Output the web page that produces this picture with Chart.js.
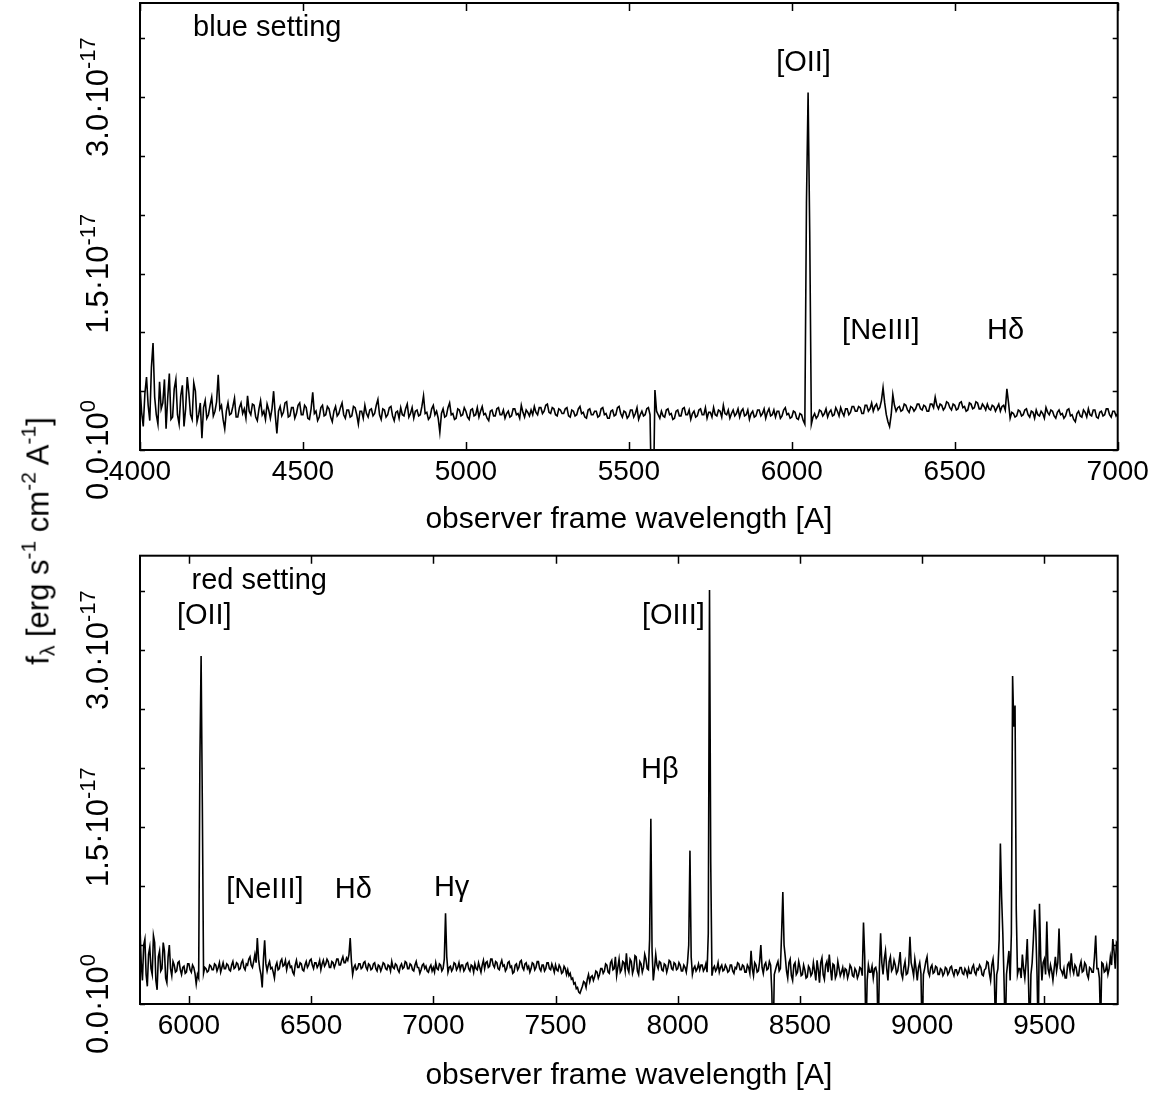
<!DOCTYPE html>
<html>
<head>
<meta charset="utf-8">
<script src="https://cdn.jsdelivr.net/npm/chart.js@4.4.0/dist/chart.umd.min.js"></script>
<style>
html,body{margin:0;padding:0;background:#fff;}
body{width:1168px;height:1094px;position:relative;overflow:hidden;}
canvas{position:absolute;left:0;}
#c1{top:0;}
#c2{top:547px;}
#ylab{position:absolute;left:38px;top:541px;transform:translate(-50%,-50%) rotate(-90deg);
  font-family:"Liberation Sans",Arial,sans-serif;font-size:31px;line-height:31px;white-space:nowrap;color:#000;}
#ylab sup,#ylab sub{font-size:21px;line-height:0;position:relative;vertical-align:baseline;}
#ylab sup{top:-0.6em;}
#ylab sub{top:0.3em;}
</style>
</head>
<body>
<canvas id="c1" width="1168" height="547"></canvas>
<canvas id="c2" width="1168" height="547"></canvas>
<div id="ylab">f<sub>λ</sub> [erg s<sup>-1</sup> cm<sup>-2</sup> A<sup>-1</sup>]</div>
<script>
// ---- data: flux in units of 1e-17 erg s^-1 cm^-2 A^-1, sampled every 5 A ----
const blueStart = 4000, blueStep = 5;
const blueFlux = [
 .55,.32,.20,.48,.62,.38,.25,.70,.91,.45,.30,.22,.58,.35,.40,.60,.18,.44,.65,.26,
 .28,.52,.60,.30,.22,.46,.55,.20,.35,.62,.48,.30,.26,.57,.50,.24,.30,.40,.10,.36,
 .42,.27,.30,.38,.45,.29,.33,.41,.64,.35,.38,.26,.18,.33,.40,.30,.31,.37,.44,.28,
 .28,.36,.40,.31,.35,.27,.46,.33,.30,.39,.38,.28,.25,.35,.42,.30,.33,.26,.39,.34,
 .27,.35,.50,.30,.14,.33,.37,.29,.32,.40,.41,.28,.29,.36,.36,.27,.31,.38,.40,.30,
 .30,.38,.36,.27,.26,.35,.49,.31,.33,.25,.28,.36,.38,.29,.30,.37,.35,.28,.24,.33,
 .37,.29,.31,.36,.40,.30,.27,.34,.34,.28,.29,.37,.36,.30,.22,.33,.33,.27,.38,.31,
 .28,.34,.35,.29,.31,.38,.43,.30,.26,.35,.34,.28,.30,.36,.37,.29,.25,.32,.33,.27,
 .36,.30,.29,.35,.39,.28,.31,.36,.27,.33,.34,.29,.30,.37,.46,.31,.32,.26,.28,.35,
 .38,.30,.33,.27,.15,.31,.35,.28,.29,.36,.40,.30,.31,.26,.27,.35,.34,.29,.30,.36,
 .33,.28,.26,.34,.35,.29,.30,.36,.28,.33,.37,.30,.31,.27,.25,.33,.34,.29,.29,.35,
 .36,.30,.30,.34,.27,.31,.33,.28,.29,.35,.35,.30,.31,.27,.38,.32,.28,.34,.32,.29,
 .34,.30,.37,.32,.30,.36,.36,.31,.33,.38,.39,.32,.31,.36,.35,.30,.29,.35,.34,.31,
 .31,.35,.36,.29,.28,.34,.33,.29,.30,.35,.37,.31,.32,.28,.27,.34,.35,.30,.30,.33,
 .33,.28,.29,.35,.36,.30,.31,.27,.27,.33,.34,.29,.30,.36,.37,.31,.28,.33,.32,.27,
 .29,.34,.34,.28,.31,.36,.26,.30,.33,.29,.30,.35,.36,.30,-.50,-.50,.51,.33,.30,.27,
 .33,.29,.28,.34,.35,.30,.31,.26,.27,.33,.34,.29,.29,.35,.36,.30,.30,.34,.26,.31,
 .33,.28,.29,.34,.35,.30,.30,.36,.27,.32,.32,.28,.36,.30,.29,.34,.33,.28,.38,.31,
 .30,.34,.27,.31,.34,.29,.31,.35,.28,.33,.35,.29,.30,.34,.26,.31,.33,.28,.29,.34,
 .34,.29,.31,.35,.27,.32,.35,.29,.30,.34,.28,.33,.33,.27,.29,.34,.36,.30,.31,.27,
 .28,.33,.32,.27,.26,.31,.30,.25,.22,2.10,3.04,1.85,.22,.28,.31,.27,.29,.34,.33,.29,
 .31,.35,.28,.32,.34,.29,.30,.36,.33,.29,.36,.32,.29,.35,.35,.30,.32,.37,.37,.33,
 .33,.37,.36,.31,.31,.38,.38,.33,.35,.40,.33,.37,.39,.34,.36,.42,.53,.40,.30,.24,
 .20,.30,.47,.38,.33,.36,.37,.33,.34,.39,.38,.34,.32,.37,.36,.33,.35,.39,.39,.35,
 .34,.38,.37,.33,.33,.39,.39,.36,.45,.38,.35,.39,.38,.34,.36,.41,.40,.36,.34,.39,
 .38,.34,.35,.40,.41,.36,.37,.33,.34,.40,.39,.35,.36,.41,.40,.35,.35,.39,.37,.34,
 .39,.35,.34,.38,.37,.33,.36,.39,.33,.37,.38,.34,.52,.40,.27,.32,.31,.28,.29,.34,
 .33,.29,.30,.34,.35,.30,.28,.33,.32,.27,.34,.30,.29,.33,.31,.27,.36,.32,.30,.34,
 .33,.29,.27,.32,.34,.30,.31,.27,.29,.34,.35,.29,.30,.26,.24,.31,.33,.29,.28,.34,
 .32,.28,.35,.30,.29,.34,.34,.28,.27,.32,.33,.29,.30,.35,.35,.30,.28,.33,.33,.29,
 .31
];
const redStart = 5800, redStep = 5;
const redFlux = [
 .65,.35,.20,.50,.55,.25,.15,.42,.48,.30,.25,.58,.52,.20,.12,.40,.45,.28,.30,.52,
 .45,.22,.18,.40,.50,.30,.24,.36,.33,.27,.28,.35,.36,.29,.25,.31,.32,.26,.27,.34,
 .34,.29,.27,.33,.31,.26,.17,.25,.22,2.05,2.95,1.70,.26,.31,.30,.27,.28,.33,.32,.29,
 .29,.34,.33,.28,.31,.35,.27,.31,.35,.30,.30,.34,.33,.29,.28,.33,.36,.30,.31,.35,
 .34,.29,.30,.35,.37,.31,.29,.34,.33,.38,.40,.33,.31,.36,.42,.35,.56,.38,.30,.25,
 .14,.38,.54,.34,.28,.33,.36,.30,.31,.27,.22,.32,.35,.29,.30,.36,.38,.32,.33,.37,
 .29,.34,.36,.31,.32,.27,.25,.33,.37,.31,.31,.35,.34,.29,.28,.33,.36,.31,.33,.37,
 .38,.33,.30,.35,.35,.31,.33,.37,.29,.34,.37,.32,.34,.38,.36,.31,.31,.36,.35,.31,
 .34,.38,.38,.33,.33,.37,.40,.35,.35,.39,.37,.42,.56,.36,.25,.31,.33,.29,.30,.34,
 .34,.30,.31,.35,.36,.31,.29,.34,.33,.29,.30,.34,.35,.30,.28,.33,.32,.28,.31,.35,
 .34,.30,.29,.33,.32,.28,.36,.31,.30,.34,.33,.29,.27,.32,.34,.30,.31,.36,.35,.30,
 .30,.34,.33,.29,.28,.33,.36,.31,.31,.26,.29,.33,.34,.30,.32,.28,.27,.31,.33,.28,
 .31,.27,.35,.30,.29,.34,.33,.28,.30,.38,.77,.40,.27,.31,.32,.28,.30,.35,.34,.29,
 .31,.35,.29,.33,.33,.28,.30,.34,.35,.30,.28,.33,.32,.27,.34,.30,.29,.35,.31,.27,
 .33,.37,.30,.35,.36,.31,.32,.38,.38,.33,.31,.36,.35,.30,.29,.34,.37,.32,.33,.28,
 .30,.35,.36,.31,.32,.26,.27,.33,.34,.29,.31,.36,.37,.31,.29,.34,.35,.30,.32,.27,
 .30,.35,.34,.29,.31,.36,.36,.30,.28,.33,.33,.28,.30,.35,.35,.30,.29,.34,.31,.27,
 .33,.29,.28,.33,.31,.26,.27,.32,.30,.25,.29,.24,.26,.21,.22,.17,.18,.13,.14,.10,
 .09,.12,.15,.19,.18,.14,.21,.25,.19,.23,.24,.20,.23,.28,.27,.22,.25,.30,.30,.26,
 .28,.34,.33,.27,.26,.35,.37,.29,.30,.40,.24,.31,.38,.27,.29,.36,.35,.28,.43,.30,
 .27,.38,.36,.26,.30,.41,.40,.28,.25,.36,.34,.27,.31,.42,.38,.30,.29,.55,1.57,.45,
 .20,.30,.42,.33,.30,.36,.35,.29,.28,.34,.33,.27,.31,.37,.36,.30,.29,.35,.34,.29,
 .30,.35,.33,.28,.28,.33,.31,.27,.35,.50,1.30,.40,.25,.30,.32,.28,.30,.34,.29,.33,
 .33,.28,.30,.34,.27,.60,3.51,1.20,.24,.30,.32,.28,.30,.35,.27,.31,.33,.28,.29,.33,
 .31,.27,.28,.33,.33,.28,.26,.31,.30,.35,.34,.29,.29,.33,.32,.27,.27,.33,.31,.26,
 .45,.30,.24,.35,.33,.27,.28,.36,.50,.31,.26,.33,.35,.29,.30,.36,.33,.10,-.40,.25,
 .29,.33,.36,.28,.30,.60,.95,.50,.40,.28,.22,.35,.38,.24,.20,.33,.35,.25,.27,.36,
 .31,.24,.25,.33,.29,.22,.23,.32,.30,.24,.26,.35,.28,.20,.37,.29,.18,.35,.39,.25,
 .21,.33,.36,.27,.42,.30,.20,.34,.33,.22,.25,.36,.30,.24,.27,.31,.24,.30,.29,.22,
 .26,.33,.31,.24,.23,.30,.28,.22,.25,.31,.30,.24,.69,.40,-.30,.20,.33,.27,.27,.32,
 .22,.30,.31,.26,-.30,.30,.60,.35,.25,.38,.45,.30,.20,.36,.40,.28,.30,.37,.33,.26,
 .28,.35,.44,.26,.22,.31,.36,.25,.26,.33,.57,.35,.30,.24,.38,.30,.20,.31,.35,.26,
 -.30,.25,.30,.36,.40,.27,.24,.31,.33,.26,.27,.32,.31,.25,.25,.30,.29,.24,.26,.31,
 .30,.25,.27,.31,.32,.27,.24,.29,.29,.25,.27,.31,.31,.26,.25,.30,.28,.24,.30,.26,
 .26,.31,.33,.27,.25,.30,.29,.33,.31,.25,.24,.29,.30,.36,.35,.26,.20,.33,.38,.25,
 -.20,.25,.30,.55,1.36,.91,.60,.20,-.30,.25,.35,.45,.20,.60,2.78,2.35,2.53,.80,.25,.30,
 .30,.22,.42,.30,.22,.35,.55,.20,-.30,.25,.35,.55,.80,.62,.25,-.30,.85,.40,.20,.35,
 .38,.25,.70,.30,.25,.33,.28,.20,.30,.40,.28,.35,.64,.30,.28,.25,.30,.22,.22,.33,
 .35,.28,.43,.30,.26,.33,.31,.24,.24,.32,.36,.27,.28,.35,.33,.25,.22,.31,.30,.27,
 .27,.40,.58,.30,.30,.22,-.20,.35,.34,.27,.28,.33,.25,.30,.40,.33,.55,.45,.30,.52,
 .50
];
const blueTicksX = [4000,4500,5000,5500,6000,6500,7000];
const redTicksX  = [6000,6500,7000,7500,8000,8500,9000,9500];
const yTicks = [0,0.5,1.0,1.5,2.0,2.5,3.0,3.5];
const yLabelValues = [0,1.5,3.0];
const yLabelMant = ['0.0','1.5','3.0'];
const yLabelExp  = ['0','-17','-17'];

// ---- annotations (text placed in data coordinates) ----
const blueNotes = [
  {text:'blue setting', x:4163, y:3.517, align:'left'},
  {text:'[OII]',   x:6036, y:3.223, align:'center'},
  {text:'[NeIII]', x:6273, y:0.943, align:'center'},
  {text:'Hδ',      x:6656, y:0.943, align:'center'}
];
const redNotes = [
  {text:'red setting', x:6011, y:3.52, align:'left'},
  {text:'[OII]',   x:6063, y:3.219, align:'center'},
  {text:'[NeIII]', x:6311, y:0.902, align:'center'},
  {text:'Hδ',      x:6673, y:0.902, align:'center'},
  {text:'Hγ',      x:7075, y:0.918, align:'center'},
  {text:'Hβ',      x:7927, y:1.919, align:'center'},
  {text:'[OIII]',  x:7982, y:3.219, align:'center'}
];

const FONT = '"Liberation Sans", Arial, sans-serif';

function framePlugin(cfg) {
  return {
    id: 'frame_' + cfg.id,
    afterDraw(chart) {
      const ctx = chart.ctx, a = chart.chartArea;
      const xs = chart.scales.x, ys = chart.scales.y;
      ctx.save();
      ctx.strokeStyle = '#000';
      ctx.lineWidth = 2;
      ctx.strokeRect(a.left, a.top, a.right - a.left, a.bottom - a.top);
      ctx.lineWidth = 1.5;
      ctx.beginPath();
      cfg.xTicks.forEach(v => {
        const px = Math.round(xs.getPixelForValue(v)) + 0.5;
        ctx.moveTo(px, a.bottom); ctx.lineTo(px, a.bottom - 8);
        ctx.moveTo(px, a.top); ctx.lineTo(px, a.top + 8);
      });
      yTicks.forEach(v => {
        const py = Math.round(ys.getPixelForValue(v)) + 0.5;
        ctx.moveTo(a.left, py); ctx.lineTo(a.left + 5, py);
        ctx.moveTo(a.right, py); ctx.lineTo(a.right - 5, py);
      });
      ctx.stroke();
      // rotated y tick labels
      ctx.fillStyle = '#000';
      yLabelValues.forEach((v, i) => {
        const py = ys.getPixelForValue(v);
        const base = yLabelMant[i] + '·10';
        const ex = yLabelExp[i];
        ctx.font = '31px ' + FONT;
        const wb = ctx.measureText(base).width;
        ctx.font = '22px ' + FONT;
        const we = ctx.measureText(ex).width;
        const tot = wb + we;
        ctx.save();
        ctx.translate(108, py);
        ctx.rotate(-Math.PI / 2);
        ctx.textAlign = 'left';
        ctx.textBaseline = 'alphabetic';
        ctx.font = '31px ' + FONT;
        ctx.fillText(base, -tot / 2, 0);
        ctx.font = '22px ' + FONT;
        ctx.fillText(ex, -tot / 2 + wb, -13);
        ctx.restore();
      });
      // line annotations
      ctx.font = '29px ' + FONT;
      ctx.textBaseline = 'alphabetic';
      cfg.notes.forEach(n => {
        ctx.textAlign = n.align;
        ctx.fillText(n.text, xs.getPixelForValue(n.x), ys.getPixelForValue(n.y));
      });
      ctx.restore();
    }
  };
}

function makeChart(canvasId, cfg) {
  const pts = cfg.flux.map((f, i) => ({x: cfg.start + i * cfg.step, y: f}));
  return new Chart(document.getElementById(canvasId), {
    type: 'line',
    data: {datasets: [{data: pts, borderColor: '#000', borderWidth: 1.6, pointRadius: 0, tension: 0, fill: false}]},
    options: {
      responsive: false, animation: false, devicePixelRatio: 1,
      layout: {padding: {left: 0, right: 50.3, top: cfg.padTop, bottom: 0}},
      plugins: {legend: {display: false}, tooltip: {enabled: false}},
      scales: {
        x: {
          type: 'linear', min: cfg.xmin, max: cfg.xmax,
          afterBuildTicks: s => { s.ticks = cfg.xTicks.map(v => ({value: v})); },
          ticks: {callback: v => String(v), font: {family: FONT, size: 28}, color: '#000', padding: 5, maxRotation: 0, autoSkip: false},
          grid: {display: false, drawTicks: false},
          border: {display: false},
          title: {display: true, text: 'observer frame wavelength [A]', font: {family: FONT, size: 30}, color: '#000', padding: {top: 0, bottom: cfg.titlePad}},
          afterFit: s => { s.height = cfg.xAxisH; }
        },
        y: {
          min: 0, max: 3.8,
          afterBuildTicks: s => { s.ticks = yTicks.map(v => ({value: v})); },
          ticks: {display: false},
          grid: {display: false, drawTicks: false},
          border: {display: false},
          afterFit: s => { s.width = 140; }
        }
      }
    },
    plugins: [framePlugin(cfg)]
  });
}

makeChart('c1', {id: 'blue', flux: blueFlux, start: blueStart, step: blueStep, xmin: 4000, xmax: 7000,
  xTicks: blueTicksX, notes: blueNotes, padTop: 3, xAxisH: 97, titlePad: 9});
makeChart('c2', {id: 'red', flux: redFlux, start: redStart, step: redStep, xmin: 5800, xmax: 9800,
  xTicks: redTicksX, notes: redNotes, padTop: 8.7, xAxisH: 90, titlePad: 0});
</script>
</body>
</html>
